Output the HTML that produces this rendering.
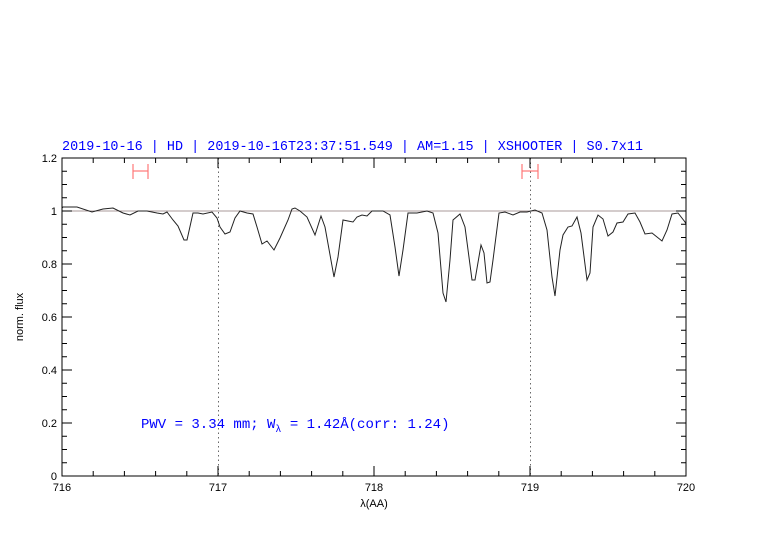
<!DOCTYPE html><html><head><style>body{margin:0;background:#fff}svg{display:block}</style></head><body>
<svg width="782" height="542" xmlns="http://www.w3.org/2000/svg" font-family="Liberation Sans, sans-serif">
<rect width="782" height="542" fill="#fff"/>
<text x="62" y="150" fill="#0000ff" font-family="Liberation Mono, monospace" font-size="14" textLength="581" lengthAdjust="spacingAndGlyphs">2019-10-16 | HD | 2019-10-16T23:37:51.549 | AM=1.15 | XSHOOTER | S0.7x11</text>
<line x1="62" y1="211" x2="686" y2="211" stroke="#a99" stroke-width="1"/>
<line x1="218.5" y1="158" x2="218.5" y2="476" stroke="#444" stroke-width="0.8" stroke-dasharray="1.5,3"/>
<line x1="530.5" y1="158" x2="530.5" y2="476" stroke="#444" stroke-width="0.8" stroke-dasharray="1.5,3"/>
<g stroke="#f77" stroke-width="1.2"><line x1="133" y1="171" x2="148" y2="171"/><line x1="133" y1="164" x2="133" y2="179"/><line x1="148" y1="164" x2="148" y2="179"/>
<line x1="522" y1="171" x2="538" y2="171"/><line x1="522" y1="164" x2="522" y2="179"/><line x1="538" y1="164" x2="538" y2="179"/></g>
<polyline fill="none" stroke="#222" stroke-width="1" points="62,208 63,207 77,207 92,212 103,209 113,208 123,213 130,215 138,211 147,211 157,213 163,214 167,212 173,220 178,226 184,240 187,240 193,213 198,213 203,214 212,212 217,218 220,227 225,234 230,232 235,218 240,211 247,213 253,214 257,227 262,244 267,241 274,250 280,238 288,220 292,209 295,208 300,211 307,217 315,235 321,216 325,227 334,277 338,257 343,220 348,221 353,222 357,217 362,215 367,216 372,211 383,211 390,215 395,247 399,276 403,250 408,213 417,213 427,211 433,213 438,233 443,293 446,302 450,260 453,220 460,214 465,227 472,280 475,280 481,245 484,253 487,283 490,282 493,260 499,213 505,212 513,215 520,212 527,212 535,210 542,213 547,230 552,277 555,296 560,250 563,235 568,227 572,226 577,217 581,233 587,280 590,273 593,227 598,215 603,219 608,236 613,232 617,223 623,222 628,214 635,213 640,222 645,234 652,233 662,241 667,230 672,214 678,213 685,222 686,224"/>
<rect x="62" y="158" width="624" height="318" fill="none" stroke="#000" stroke-width="1"/>
<g stroke="#000" stroke-width="1">
<path d="M93.2,476v-5M124.4,476v-5M155.6,476v-5M186.8,476v-5M249.2,476v-5M280.4,476v-5M311.6,476v-5M342.8,476v-5M405.2,476v-5M436.4,476v-5M467.6,476v-5M498.8,476v-5M561.2,476v-5M592.4,476v-5M623.6,476v-5M654.8,476v-5M218,476v-10M374,476v-10M530,476v-10"/>
<path d="M93.2,158v5M124.4,158v5M155.6,158v5M186.8,158v5M249.2,158v5M280.4,158v5M311.6,158v5M342.8,158v5M405.2,158v5M436.4,158v5M467.6,158v5M498.8,158v5M561.2,158v5M592.4,158v5M623.6,158v5M654.8,158v5M218,158v10M374,158v10M530,158v10"/>
<path d="M62,462.75h5M62,449.5h5M62,436.25h5M62,409.75h5M62,396.5h5M62,383.25h5M62,356.75h5M62,343.5h5M62,330.25h5M62,303.75h5M62,290.5h5M62,277.25h5M62,250.75h5M62,237.5h5M62,224.25h5M62,197.75h5M62,184.5h5M62,171.25h5M62,423h10M62,370h10M62,317h10M62,264h10M62,211h10"/>
<path d="M686,462.75h-5M686,449.5h-5M686,436.25h-5M686,409.75h-5M686,396.5h-5M686,383.25h-5M686,356.75h-5M686,343.5h-5M686,330.25h-5M686,303.75h-5M686,290.5h-5M686,277.25h-5M686,250.75h-5M686,237.5h-5M686,224.25h-5M686,197.75h-5M686,184.5h-5M686,171.25h-5M686,423h-10M686,370h-10M686,317h-10M686,264h-10M686,211h-10"/>
</g>
<g font-size="11" fill="#000" text-anchor="end">
<text x="57" y="480">0</text><text x="57" y="427">0.2</text><text x="57" y="374">0.4</text><text x="57" y="321">0.6</text><text x="57" y="268">0.8</text><text x="57" y="215">1</text><text x="57" y="162">1.2</text></g>
<g font-size="11" fill="#000" text-anchor="middle">
<text x="62" y="491">716</text><text x="218" y="491">717</text><text x="374" y="491">718</text><text x="530" y="491">719</text><text x="686" y="491">720</text>
<text x="374" y="507">λ(AA)</text></g>
<text transform="translate(23,317) rotate(-90)" font-size="11" text-anchor="middle" fill="#000">norm. flux</text>
<text x="141" y="428" fill="#0000ff" font-family="Liberation Mono, monospace" font-size="14">PWV = 3.34 mm; W<tspan font-size="10" dy="4">λ</tspan><tspan dy="-4"> = 1.42Å(corr: 1.24)</tspan></text>
</svg></body></html>
